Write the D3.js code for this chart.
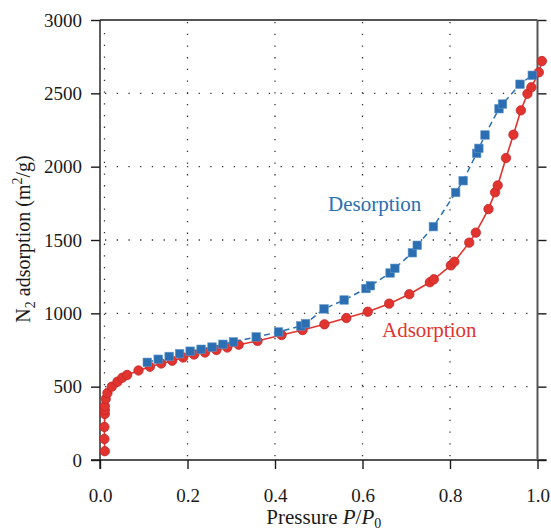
<!DOCTYPE html>
<html lang="en">
<head>
  <meta charset="UTF-8">
  <title>N2 adsorption isotherm</title>
  <style>
    html, body {
      margin: 0;
      padding: 0;
      background: #fff;
    }

    svg {
      display: block;
    }

    .axis path,
    .axis line {
      fill: none;
      stroke: #1a1a1a;
      stroke-width: 1.4;
    }

    .grid line {
      stroke: #333;
      stroke-width: 1.3;
      stroke-dasharray: 1.3 10.4;
    }
  </style>
</head>
<body>
<div class="chart-box"></div>
</body>
<script src="https://cdn.jsdelivr.net/npm/d3@7/dist/d3.min.js"></script>
<script>
  // adsorption branch (red circles)
  let adsX = [0.011, 0.010, 0.010, 0.011, 0.011, 0.011, 0.013, 0.017, 0.027, 0.040,
    0.051, 0.062, 0.088, 0.114, 0.140, 0.165, 0.190, 0.215, 0.240, 0.266,
    0.291, 0.317, 0.360, 0.415, 0.463, 0.513, 0.563, 0.612, 0.661, 0.707,
    0.754, 0.763, 0.802, 0.810, 0.844, 0.859, 0.888, 0.903, 0.909, 0.928,
    0.945, 0.962, 0.977, 0.986, 1.003, 1.010]
  let adsY = [60, 143, 225, 314, 341, 368, 416, 457, 500, 534,
    561, 580, 610, 636, 658, 677, 699, 719, 733, 750,
    767, 786, 812, 852, 886, 925, 968, 1011, 1066, 1130,
    1212, 1232, 1327, 1352, 1482, 1550, 1711, 1825, 1872, 2059,
    2218, 2384, 2497, 2541, 2643, 2720]

  // desorption branch (blue squares)
  let desX = [0.108, 0.133, 0.158, 0.182, 0.206, 0.231, 0.256, 0.281, 0.305, 0.357,
    0.408, 0.459, 0.470, 0.512, 0.558, 0.608, 0.618, 0.663, 0.674, 0.714,
    0.725, 0.762, 0.813, 0.830, 0.861, 0.866, 0.880, 0.912, 0.920, 0.960,
    0.988]
  let desY = [666, 687, 706, 725, 742, 755, 770, 789, 805, 839,
    873, 914, 930, 1030, 1091, 1169, 1188, 1275, 1307, 1413,
    1464, 1591, 1824, 1904, 2091, 2125, 2216, 2395, 2427, 2562,
    2623]

  let xTicks = [0.0, 0.2, 0.4, 0.6, 0.8, 1.0]
  let yTicks = [0, 500, 1000, 1500, 2000, 2500, 3000]
  let xGrid = [0.2, 0.4, 0.6, 0.8]
  let yGrid = [500, 1000, 1500, 2000, 2500]

  let adsColor = '#e2342f'
  let desColor = '#2b6fb2'
  let serif = '"Liberation Serif", "Times New Roman", serif'

  let width = 551
  let height = 531
  let paddingT = 20
  let paddingB = 71
  let paddingL = 100
  let paddingR = 13.5
  let tickLen = 9

  let svg = d3.select('.chart-box').append('svg').attr('width', width).attr('height', height)
  let xScale = d3.scaleLinear().domain([0, 1]).range([paddingL, width - paddingR])
  let yScale = d3.scaleLinear().domain([0, 3000]).range([height - paddingB, paddingT])

  drawChart()

  function drawChart () {
    drawGrid()
    drawAxis()
    drawSeries()
    drawText()
  }

  function drawGrid () {
    let g = svg.append('g').attr('class', 'grid')
    // vertical grid, plus the faint one just right of the y axis
    g.selectAll('.gx').data(xGrid).enter().append('line')
      .attr('x1', d => xScale(d)).attr('x2', d => xScale(d))
      .attr('y1', yScale(3000) + 2).attr('y2', yScale(0))
    g.append('line')
      .attr('x1', xScale(0) + 4.5).attr('x2', xScale(0) + 4.5)
      .attr('y1', yScale(3000) + 13).attr('y2', yScale(0))
    g.selectAll('.gy').data(yGrid).enter().append('line')
      .attr('x1', xScale(0) + 5).attr('x2', xScale(1))
      .attr('y1', d => yScale(d)).attr('y2', d => yScale(d))
  }

  function styleTicks (g) {
    g.attr('font-family', serif)
      .attr('font-size', 19)
    g.selectAll('text')
      .style('font-family', serif)
      .style('font-size', '19px')
      .style('fill', '#1a1a1a')
  }

  function drawAxis () {
    let xAxis = d3.axisBottom(xScale)
      .tickValues(xTicks)
      .tickFormat(d3.format('.1f'))
      .tickSize(tickLen)
      .tickSizeOuter(0)
      .tickPadding(20)
    svg.append('g').attr('class', 'axis')
      .attr('transform', 'translate(0,' + yScale(0) + ')')
      .call(xAxis)
      .call(g => g.select('.domain').remove())
      .call(styleTicks)

    let yAxis = d3.axisLeft(yScale)
      .tickValues(yTicks)
      .tickFormat(d3.format('d'))
      .tickSize(tickLen)
      .tickSizeOuter(0)
      .tickPadding(9)
    svg.append('g').attr('class', 'axis')
      .attr('transform', 'translate(' + xScale(0) + ',0)')
      .call(yAxis)
      .call(g => g.select('.domain').remove())
      .call(styleTicks)

    // right axis: ticks pointing out, no labels
    let yAxisR = d3.axisRight(yScale)
      .tickValues(yTicks)
      .tickSize(tickLen)
      .tickSizeOuter(0)
      .tickFormat('')
    svg.append('g').attr('class', 'axis')
      .attr('transform', 'translate(' + xScale(1) + ',0)')
      .call(yAxisR)
      .call(g => g.select('.domain').remove())

    // frame lines; bottom and left ones run past the corner
    let frame = svg.append('g').attr('class', 'axis')
    frame.append('line')
      .attr('x1', xScale(0) - tickLen).attr('x2', xScale(1) + tickLen)
      .attr('y1', yScale(0)).attr('y2', yScale(0))
    frame.append('line')
      .attr('x1', xScale(0)).attr('x2', xScale(0))
      .attr('y1', yScale(3000)).attr('y2', yScale(0) + tickLen)
    frame.append('line')
      .attr('x1', xScale(0)).attr('x2', xScale(1))
      .attr('y1', yScale(3000)).attr('y2', yScale(3000))
    frame.append('line')
      .attr('x1', xScale(1)).attr('x2', xScale(1))
      .attr('y1', yScale(3000)).attr('y2', yScale(0))
      .style('stroke', '#555')
      .style('stroke-width', 2)
  }

  function drawSeries () {
    let ads = adsX.map((d, i) => [d, adsY[i]])
    let des = desX.map((d, i) => [d, desY[i]])
    let line = d3.line()
      .x(d => xScale(d[0]))
      .y(d => yScale(d[1]))

    svg.append('path')
      .datum(ads)
      .attr('d', line)
      .attr('fill', 'none')
      .attr('stroke', adsColor)
      .attr('stroke-width', 1.6)

    svg.selectAll('.ads').data(ads).enter().append('circle')
      .attr('class', 'ads')
      .attr('cx', d => xScale(d[0]))
      .attr('cy', d => yScale(d[1]))
      .attr('r', 4.7)
      .attr('fill', adsColor)
      .attr('stroke', '#c4262a')
      .attr('stroke-width', 0.8)

    svg.append('path')
      .datum(des)
      .attr('d', line)
      .attr('fill', 'none')
      .attr('stroke', desColor)
      .attr('stroke-width', 1.5)
      .attr('stroke-dasharray', '6 4')

    let sq = 8.5
    svg.selectAll('.des').data(des).enter().append('rect')
      .attr('class', 'des')
      .attr('x', d => xScale(d[0]) - sq / 2)
      .attr('y', d => yScale(d[1]) - sq / 2)
      .attr('width', sq)
      .attr('height', sq)
      .attr('fill', desColor)
      .attr('stroke', '#5d93c9')
      .attr('stroke-width', 0.6)
  }

  function drawText () {
    // x title
    let xt = svg.append('text')
      .attr('x', (xScale(0) + xScale(1)) / 2 + 5)
      .attr('y', 524)
      .attr('text-anchor', 'middle')
      .style('font-family', serif)
      .style('font-size', '21px')
      .style('fill', '#1a1a1a')
    xt.append('tspan').text('Pressure ')
    xt.append('tspan').style('font-style', 'italic').text('P')
    xt.append('tspan').text('/')
    xt.append('tspan').style('font-style', 'italic').text('P')
    xt.append('tspan').attr('dy', 4).style('font-size', '14px').text('0')

    // y title
    let yt = svg.append('text')
      .attr('transform', 'translate(30,' + (yScale(1500) - 1) + ') rotate(-90)')
      .attr('text-anchor', 'middle')
      .style('font-family', serif)
      .style('font-size', '20px')
      .style('fill', '#1a1a1a')
    yt.append('tspan').text('N')
    yt.append('tspan').attr('dy', 5).style('font-size', '14px').text('2')
    yt.append('tspan').attr('dy', -5).text(' adsorption (m')
    yt.append('tspan').attr('dy', -8).style('font-size', '14px').text('2')
    yt.append('tspan').attr('dy', 8).text('/g)')

    svg.append('text')
      .attr('x', 328)
      .attr('y', 211)
      .style('font-family', serif)
      .style('font-size', '21px')
      .style('fill', desColor)
      .text('Desorption')

    svg.append('text')
      .attr('x', 382)
      .attr('y', 337)
      .style('font-family', serif)
      .style('font-size', '21px')
      .style('fill', adsColor)
      .text('Adsorption')
  }
</script>
</html>
